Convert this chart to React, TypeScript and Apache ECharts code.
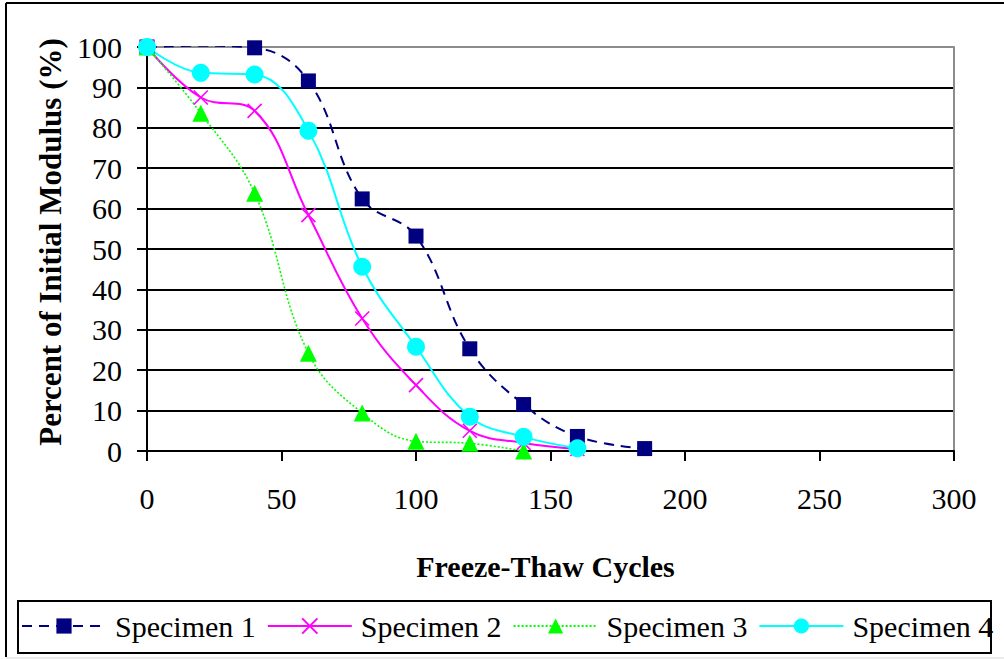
import React, { useEffect, useRef } from "react";
import * as echarts from "echarts";

// Freeze-thaw cycles at which each specimen was measured
const cycles1 = [0, 20, 40, 60, 80, 100, 120, 140, 160, 185];
const cycles2 = [0, 20, 40, 60, 80, 100, 120, 140, 160];
const cycles3 = [0, 20, 40, 60, 80, 100, 120, 140];
const cycles4 = [0, 20, 40, 60, 80, 100, 120, 140, 160];

// Percent of initial modulus
const specimen1 = [100, 100.3, 99.8, 91.6, 62.4, 53.2, 25.3, 11.5, 3.6, 0.6];
const specimen2 = [100, 87.5, 84.2, 58.4, 32.8, 16.3, 5.0, 2.0, 0.5];
const specimen3 = [100, 83.6, 63.8, 24.2, 9.4, 2.4, 1.9, 0];
const specimen4 = [100, 93.6, 93.2, 79.3, 45.6, 25.8, 8.5, 3.5, 0.7];

const seriesNames = ["Specimen 1", "Specimen 2", "Specimen 3", "Specimen 4"];
const xTicks = { min: 0, max: 300, interval: 50 };
const yTicks = { min: 0, max: 100, interval: 10 };

const FONT = "Liberation Serif";

const pairs = (xs: number[], ys: number[]) => xs.map((x, i) => [x, ys[i]]);

export default function App() {
  const ref = useRef<HTMLDivElement>(null);

  useEffect(() => {
    if (!ref.current) return;
    const chart = echarts.init(ref.current, undefined, { renderer: "svg" });

    const gridColors = Array.from({ length: 11 }, (_, i) => (i === 10 ? "#8c8c8c" : "#000000"));

    chart.setOption({
      animation: false,
      backgroundColor: "#ffffff",
      textStyle: { fontFamily: FONT },
      grid: { left: 147, right: 50, top: 47, bottom: 208, containLabel: false },
      xAxis: {
        type: "value",
        min: xTicks.min,
        max: xTicks.max,
        interval: xTicks.interval,
        name: "Freeze-Thaw Cycles",
        nameLocation: "middle",
        nameGap: 100,
        nameTextStyle: { fontFamily: FONT, fontSize: 30, fontWeight: "bold", color: "#000", padding: [0, 10, 0, 0] },
        axisLine: { show: true, lineStyle: { color: "#000", width: 2 } },
        axisTick: { show: true, inside: false, length: 10, lineStyle: { color: "#000", width: 2 } },
        axisLabel: { fontFamily: FONT, fontSize: 30, color: "#000", margin: 32 },
        splitLine: { show: false },
      },
      yAxis: [
        {
          type: "value",
          min: yTicks.min,
          max: yTicks.max,
          interval: yTicks.interval,
          name: "Percent of Initial Modulus (%)",
          nameLocation: "middle",
          nameGap: 76,
          nameTextStyle: { fontFamily: FONT, fontSize: 31, fontWeight: "bold", color: "#000", padding: [0, 0, 0, 14] },
          axisLine: { show: true, lineStyle: { color: "#000", width: 2 } },
          axisTick: { show: true, inside: false, length: 10, lineStyle: { color: "#000", width: 2 } },
          axisLabel: { fontFamily: FONT, fontSize: 30, color: "#000", margin: 25 },
          splitLine: { show: true, lineStyle: { color: gridColors, width: 2 } },
        },
        {
          type: "value",
          position: "right",
          min: yTicks.min,
          max: yTicks.max,
          interval: yTicks.interval,
          axisLine: { show: true, lineStyle: { color: "#8c8c8c", width: 2 } },
          axisTick: { show: false },
          axisLabel: { show: false },
          splitLine: { show: false },
        },
      ],
      legend: {
        left: 21,
        top: 611,
        width: 980,
        padding: 0,
        itemWidth: 84,
        itemHeight: 19,
        itemGap: 11,
        data: seriesNames,
        textStyle: { fontFamily: FONT, fontSize: 30, color: "#000", padding: [0, 0, 0, 4] },
      },
      graphic: [
        // chart frame
        { type: "line", shape: { x1: 6, y1: 3, x2: 1004, y2: 3 }, style: { stroke: "#000", lineWidth: 2 } },
        { type: "line", shape: { x1: 6, y1: 3, x2: 6, y2: 657 }, style: { stroke: "#000", lineWidth: 2 } },
        { type: "line", shape: { x1: 6, y1: 658, x2: 1004, y2: 658 }, style: { stroke: "#d8d8d8", lineWidth: 1 } },
        // legend box
        { type: "rect", shape: { x: 18, y: 601, width: 973, height: 52 }, style: { fill: "none", stroke: "#000", lineWidth: 2 } },
      ],
      series: [
        {
          name: seriesNames[0],
          type: "line",
          data: pairs(cycles1, specimen1),
          smooth: 0.4,
          symbol: "rect",
          symbolSize: 15,
          itemStyle: { color: "#000080" },
          lineStyle: { color: "#000080", width: 2, type: [10, 7] },
        },
        {
          name: seriesNames[1],
          type: "line",
          data: pairs(cycles2, specimen2),
          smooth: 0.4,
          symbol: "path://M0,0L10,10M10,0L0,10",
          symbolSize: 14,
          itemStyle: { color: "#ff00ff", borderColor: "#ff00ff", borderWidth: 1.6 },
          lineStyle: { color: "#ff00ff", width: 2 },
        },
        {
          name: seriesNames[2],
          type: "line",
          data: pairs(cycles3, specimen3),
          smooth: 0.4,
          symbol: "triangle",
          symbolSize: 17,
          itemStyle: { color: "#00ff00" },
          lineStyle: { color: "#00ff00", width: 1.6, type: [2, 2] },
        },
        {
          name: seriesNames[3],
          type: "line",
          data: pairs(cycles4, specimen4),
          smooth: 0.4,
          symbol: "circle",
          symbolSize: 18,
          itemStyle: { color: "#00ffff" },
          lineStyle: { color: "#00ffff", width: 2 },
        },
      ],
    });

    return () => chart.dispose();
  }, []);

  return (
    <div
      ref={ref}
      style={{ position: "fixed", left: 0, top: 0, width: 1004, height: 659, background: "#fff" }}
    />
  );
}
